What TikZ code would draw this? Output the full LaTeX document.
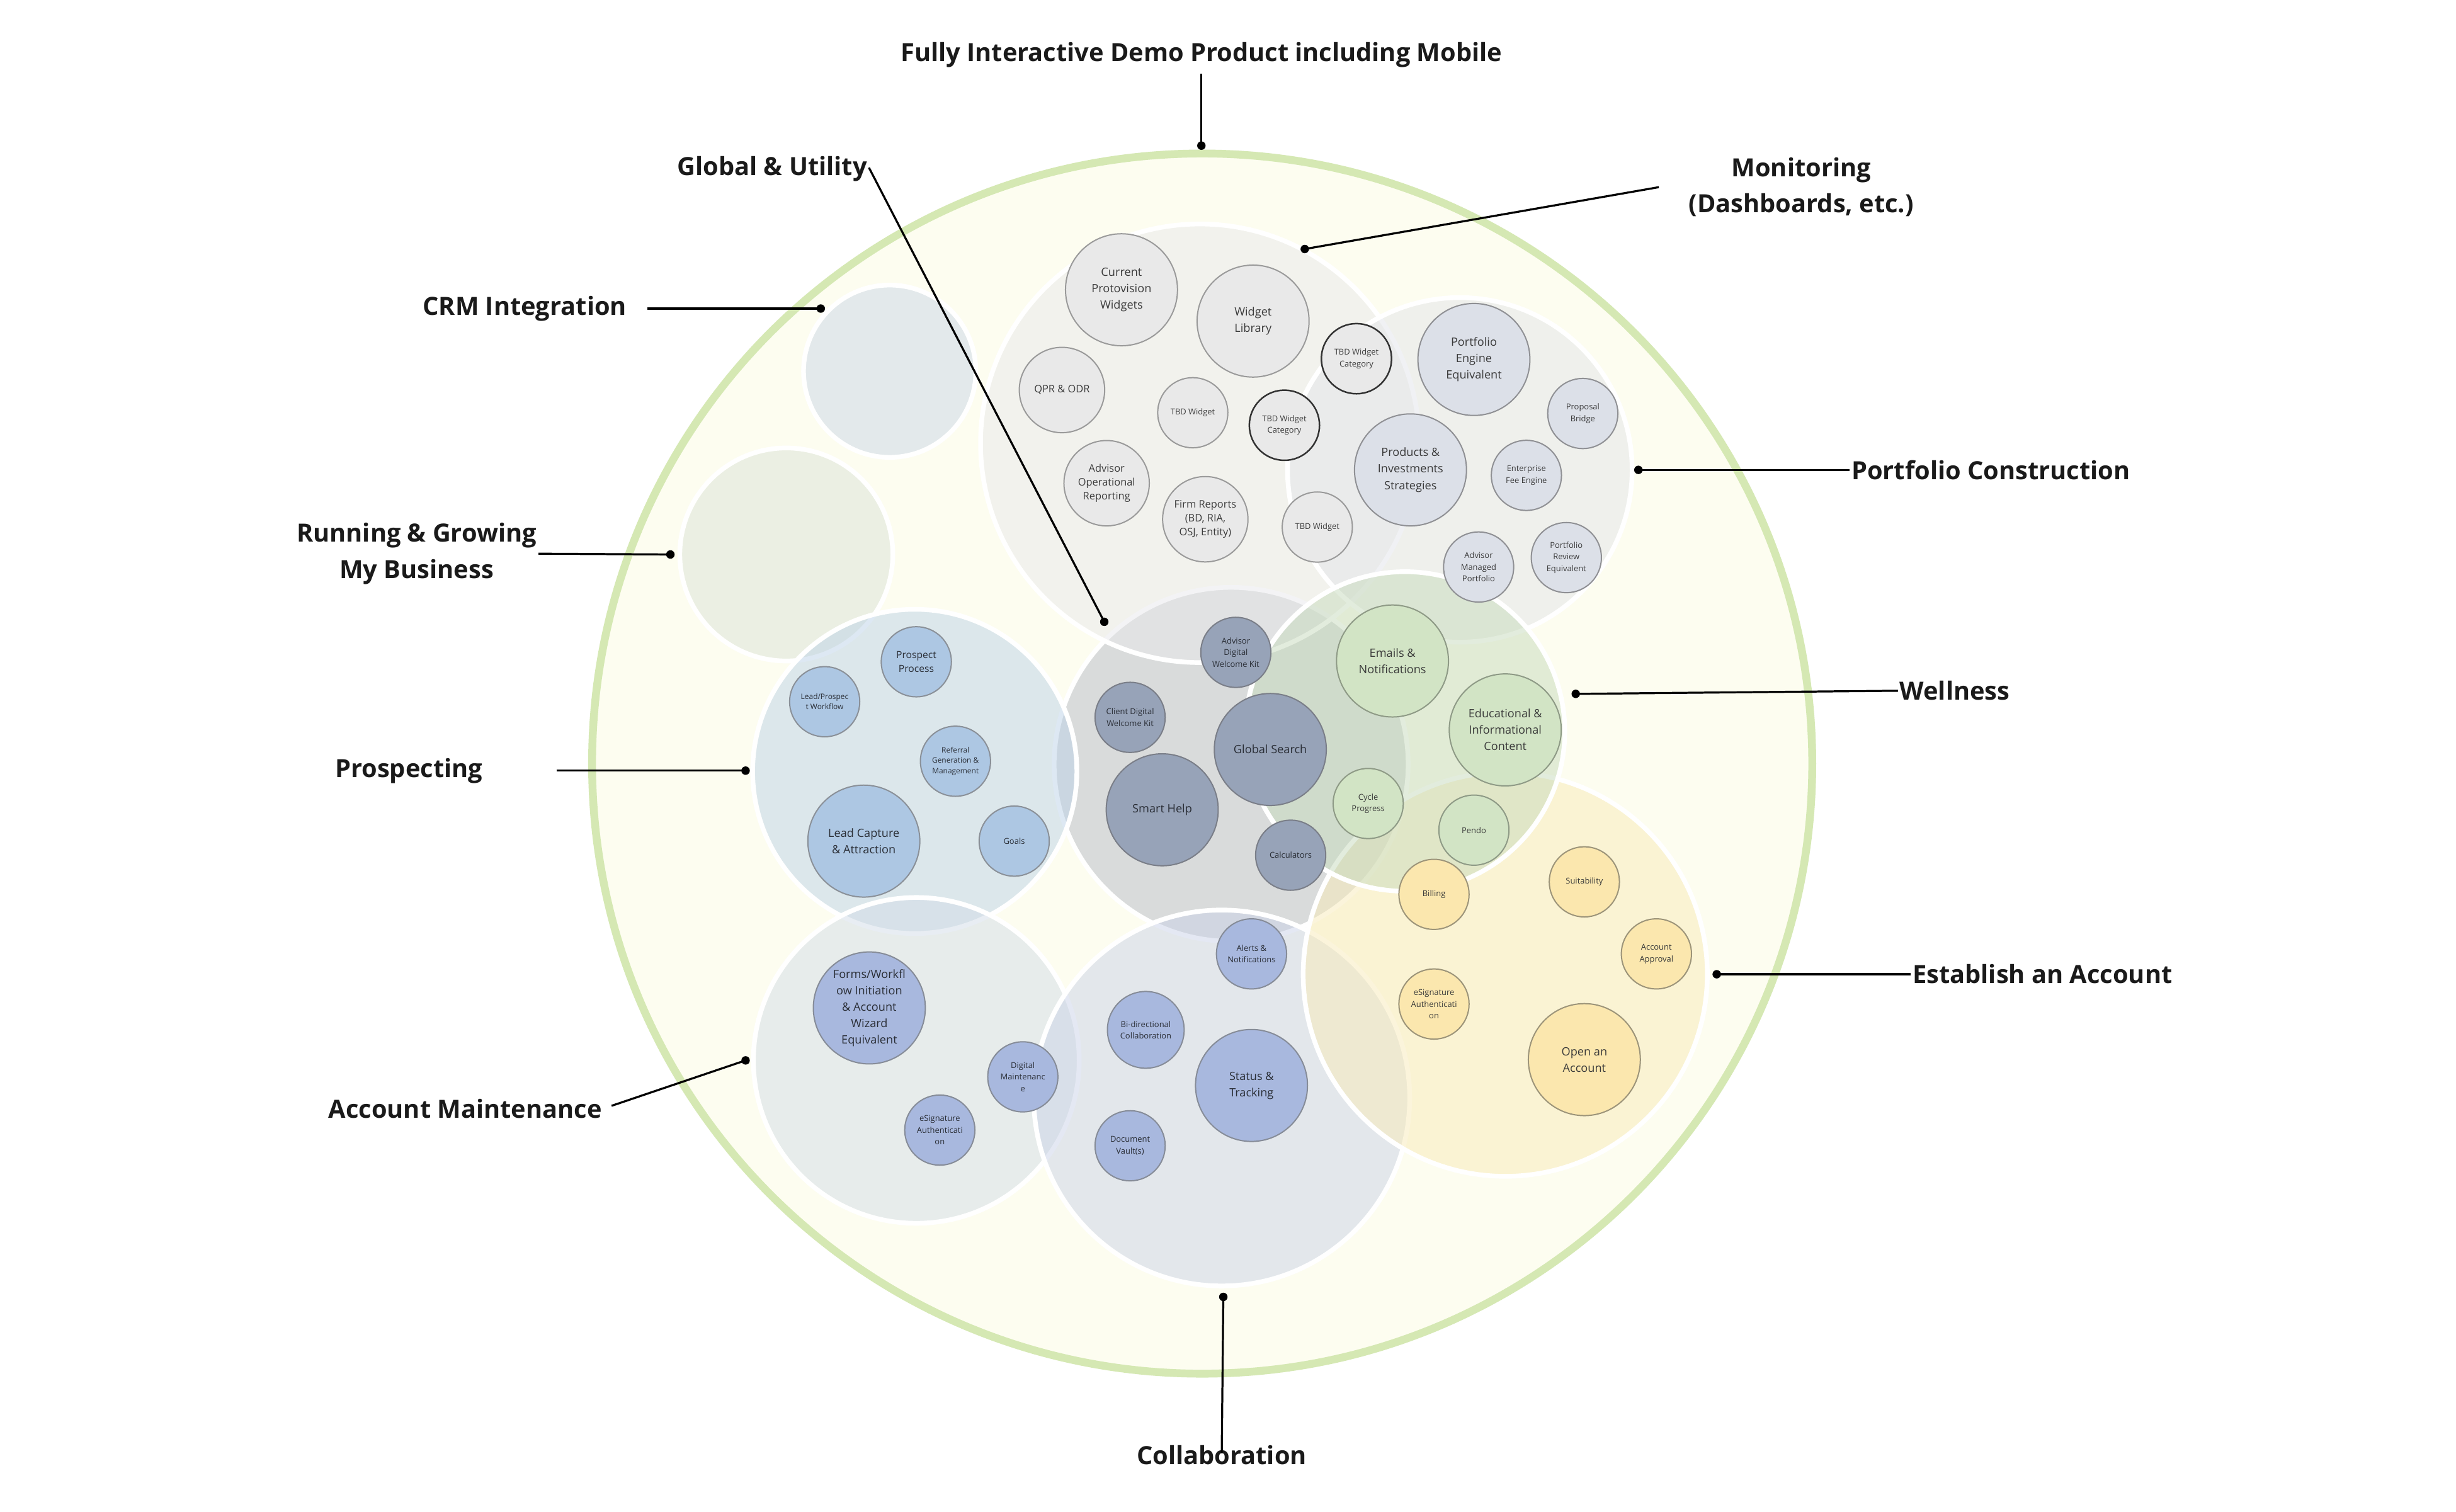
\documentclass[tikz,border=0pt]{standalone}
\usepackage{fontspec}
\setmainfont{Open Sans}
\definecolor{bgy}{HTML}{FDFDF0}
\definecolor{ring}{HTML}{D5E8B3}
\definecolor{crmC}{HTML}{CBD7E8}
\definecolor{runC}{HTML}{DBE3D8}
\definecolor{monC}{HTML}{E9E9EC}
\definecolor{porC}{HTML}{E3E5EA}
\definecolor{gloC}{HTML}{B7BBC8}
\definecolor{welC}{HTML}{C7DBBC}
\definecolor{proC}{HTML}{BDD3E8}
\definecolor{amC}{HTML}{D3DDE8}
\definecolor{colC}{HTML}{CBD3E8}
\definecolor{estC}{HTML}{F9EBB8}
\definecolor{monI}{HTML}{E9E9E9}\definecolor{monL}{HTML}{9A9A9A}
\definecolor{porI}{HTML}{DCE0E8}\definecolor{porL}{HTML}{8F9094}
\definecolor{gloI}{HTML}{97A3B8}\definecolor{gloL}{HTML}{7A7E88}
\definecolor{welI}{HTML}{D2E4C5}\definecolor{welL}{HTML}{8E9A86}
\definecolor{estI}{HTML}{FBE7AE}\definecolor{estL}{HTML}{9C9479}
\definecolor{proI}{HTML}{ADC7E3}\definecolor{proL}{HTML}{8A9098}
\definecolor{amI}{HTML}{A8B8DE}\definecolor{amL}{HTML}{868C98}
\definecolor{txt}{HTML}{3A3A3A}
\definecolor{txtd}{HTML}{2A2E36}
\definecolor{labc}{HTML}{1A1A1A}
\begin{document}
\begin{tikzpicture}[x=1pt,y=-1pt,
  cluster/.style={circle, draw=white, line width=3pt, inner sep=0pt, minimum size=#1, fill opacity=0.5, draw opacity=1},
  itm/.style={circle, inner sep=0pt, align=center, line width=0.8pt, text=txt},
  bigi/.style={itm, minimum size=71.5pt, font=\fontsize{7.3}{10.5}\selectfont},
  medi/.style={itm, minimum size=54.5pt, font=\fontsize{6.6}{9}\selectfont},
  smli/.style={itm, minimum size=44.8pt, font=\fontsize{5.2}{7.4}\selectfont},
  tiny/.style={font=\fontsize{4.8}{6.6}\selectfont},
  mon/.style={fill=monI, draw=monL},
  mondark/.style={fill=monI, draw=black!80, line width=1pt},
  por/.style={fill=porI, draw=porL},
  glo/.style={fill=gloI, draw=gloL, text=txtd},
  wel/.style={fill=welI, draw=welL},
  est/.style={fill=estI, draw=estL},
  pro/.style={fill=proI, draw=proL, text=txtd},
  amc/.style={fill=amI, draw=amL, text=txtd},
  lbl/.style={font=\fontsize{16}{23}\selectfont\bfseries, text=labc, align=center, inner sep=1pt},
  conn/.style={line width=1.3pt, draw=black},
  dotc/.style={fill=black}
]
\useasboundingbox (0,0) rectangle (1568,965);
\fill[white] (0,0) rectangle (1568,965);

% outer circle
\node[circle, draw=ring, line width=5pt, fill=bgy, inner sep=0pt, minimum size=779pt] (outer) at (767.5,487.5) {};

% clusters
\node[cluster=110pt, fill=crmC] (crm) at (568,237) {};
\node[cluster=136pt, fill=runC] (run) at (502,354) {};
\node[cluster=226pt, fill=gloC] (glob) at (786,488) {};
\node[cluster=280pt, fill=monC] (mon) at (766,283) {};
\node[cluster=220pt, fill=porC] (port) at (932,300) {};
\node[cluster=207pt, fill=proC] (prosp) at (584,492.5) {};
\node[cluster=208pt, fill=amC] (am) at (585,677) {};
\node[cluster=240pt, fill=colC] (col) at (780,701) {};
\node[cluster=258pt, fill=estC] (est) at (961,622) {};
\node[cluster=204pt, fill=welC] (well) at (897,467) {};

% monitoring items
\node[bigi, mon] (m1) at (716,185) {Current\\Protovision\\Widgets};
\node[bigi, mon] (m2) at (800,205) {Widget\\Library};
\node[medi, mon] (m3) at (678,249) {QPR \& ODR};
\node[smli, mon] (m4) at (761.5,263.5) {TBD Widget};
\node[smli, mondark] (m5) at (866,229) {TBD Widget\\Category};
\node[smli, mondark] (m6) at (820,271.5) {TBD Widget\\Category};
\node[medi, mon] (m7) at (706.5,308.5) {Advisor\\Operational\\Reporting};
\node[medi, mon] (m8) at (769.5,331.5) {Firm Reports\\(BD, RIA,\\OSJ, Entity)};
\node[smli, mon] (m9) at (841,336.5) {TBD Widget};

% portfolio items
\node[bigi, por] (p1) at (941,229.5) {Portfolio\\Engine\\Equivalent};
\node[smli, por] (p2) at (1010.5,264) {Proposal\\Bridge};
\node[bigi, por] (p3) at (900.5,300) {Products \&\\Investments\\Strategies};
\node[smli, por] (p4) at (974.5,303.5) {Enterprise\\Fee Engine};
\node[smli, por] (p5) at (944,362) {Advisor\\Managed\\Portfolio};
\node[smli, por] (p6) at (1000,356) {Portfolio\\Review\\Equivalent};

% global items
\node[smli, glo] (g1) at (789,416.5) {Advisor\\Digital\\Welcome Kit};
\node[smli, glo] (g2) at (721.5,458) {Client Digital\\Welcome Kit};
\node[bigi, glo] (g3) at (811,478.5) {Global Search};
\node[bigi, glo] (g4) at (742,517) {Smart Help};
\node[smli, glo] (g5) at (824,546) {Calculators};

% wellness items
\node[bigi, wel] (w1) at (889,422) {Emails \&\\Notifications};
\node[bigi, wel] (w2) at (961,466) {Educational \&\\Informational\\Content};
\node[smli, wel] (w3) at (873.5,513) {Cycle\\Progress};
\node[smli, wel] (w4) at (941,530) {Pendo};

% establish items
\node[smli, est] (e1) at (915.5,571) {Billing};
\node[smli, est] (e2) at (1011.5,563) {Suitability};
\node[smli, est] (e3) at (1057.5,609) {Account\\Approval};
\node[smli, est] (e4) at (915.5,641) {eSignature\\Authenticati\\on};
\node[bigi, est] (e5) at (1011.5,676.5) {Open an\\Account};

% prospecting items
\node[smli, pro, font=\fontsize{6.3}{8.7}\selectfont] (r1) at (585,422.5) {Prospect\\Process};
\node[smli, pro, tiny] (r2) at (526.5,448) {Lead/Prospec\\t Workflow};
\node[smli, pro, tiny] (r3) at (610,486) {Referral\\Generation \&\\Management};
\node[bigi, pro] (r4) at (551.5,537) {Lead Capture\\\& Attraction};
\node[smli, pro] (r5) at (647.5,537) {Goals};

% account maintenance items
\node[bigi, amc] (a1) at (555,643.5) {Forms/Workfl\\ow Initiation\\\& Account\\Wizard\\Equivalent};
\node[smli, amc] (a2) at (653,687.5) {Digital\\Maintenanc\\e};
\node[smli, amc] (a3) at (600,721.5) {eSignature\\Authenticati\\on};

% collaboration items
\node[smli, amc] (c1) at (799,609) {Alerts \&\\Notifications};
\node[smli, amc, minimum size=49pt] (c2) at (731.5,657.5) {Bi-directional\\Collaboration};
\node[bigi, amc] (c3) at (799,693) {Status \&\\Tracking};
\node[smli, amc] (c4) at (721.5,731.5) {Document\\Vault(s)};

% labels
\node[lbl] (lfull) at (767,35) {Fully Interactive Demo Product including Mobile};
\node[lbl] (lglob) at (493,108) {Global \& Utility};
\node[lbl] (lmon) at (1150,119.5) {Monitoring\\(Dashboards, etc.)};
\node[lbl] (lcrm) at (335,197) {CRM Integration};
\node[lbl] (lrun) at (266,353.5) {Running \& Growing\\My Business};
\node[lbl] (lport) at (1271,300) {Portfolio Construction};
\node[lbl] (lwell) at (1248,441) {Wellness};
\node[lbl] (lprosp) at (261,492) {Prospecting};
\node[lbl] (lest) at (1304,622) {Establish an Account};
\node[lbl] (lam) at (297,708) {Account Maintenance};
\node[lbl] (lcol) at (780,929) {Collaboration};

% connector end points
\coordinate (dfull) at (767,93);
\coordinate (dglob) at (705,397);
\coordinate (dmon) at (833,159);
\coordinate (dcrm) at (524,197);
\coordinate (drun) at (428,354);
\coordinate (dport) at (1046,300);
\coordinate (dwell) at (1006,443);
\coordinate (dprosp) at (476,492);
\coordinate (dest) at (1096,622);
\coordinate (dam) at (476,677);
\coordinate (dcol) at (781,828);

% connectors
\draw[conn] ([yshift=-3pt]lfull.south) -- (dfull);
\draw[conn] ([yshift=1pt]lglob.east) -- (dglob);
\draw[conn] ([xshift=-18pt]lmon.west) -- (dmon);
\draw[conn] ([xshift=12pt]lcrm.east) -- (dcrm);
\draw[conn] (lrun.east) -- (drun);
\draw[conn] (lport.west) -- (dport);
\draw[conn] (lwell.west) -- (dwell);
\draw[conn] ([xshift=46pt]lprosp.east) -- (dprosp);
\draw[conn] (lest.west) -- (dest);
\draw[conn] ([xshift=5pt,yshift=2pt]lam.east) -- (dam);
\draw[conn] ([yshift=-6pt]lcol.north) -- (dcol);
\foreach \d in {dfull,dglob,dmon,dcrm,drun,dport,dwell,dprosp,dest,dam,dcol}
  \fill[dotc] (\d) circle (2.7);
\end{tikzpicture}
\end{document}
